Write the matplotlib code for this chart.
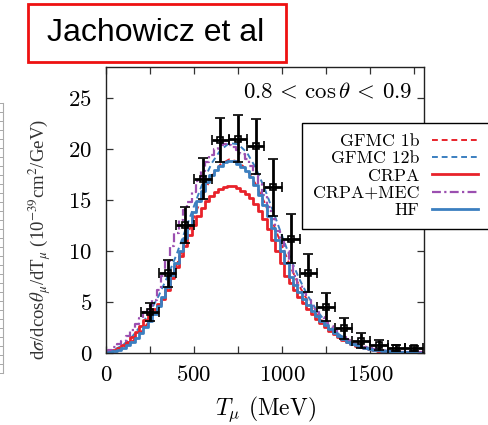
import matplotlib
matplotlib.use('Agg')
import matplotlib.pyplot as plt
from matplotlib.patches import Rectangle
from matplotlib.ticker import MultipleLocator

plt.rcParams['mathtext.fontset'] = 'cm'
plt.rcParams['font.family'] = ['cmr10', 'DejaVu Serif']
plt.rcParams['axes.formatter.use_mathtext'] = True

# fine binned curves (25 MeV)
t_fine = list(range(0, 1825, 25))
crpa = [0.0, 0.1, 0.25, 0.45, 0.75, 1.1, 1.5, 2.0, 2.6, 3.2, 3.8, 4.3, 4.8, 5.3, 6.2, 7.3,
        8.4, 9.5, 10.5, 11.6, 12.6, 13.4, 14.2, 14.9, 15.4, 15.8, 16.1, 16.3, 16.4, 16.35,
        16.2, 15.9, 15.6, 15.2, 14.6, 13.9, 13.1, 12.2, 11.1, 10.0, 8.8, 7.5, 6.9, 6.2,
        5.5, 4.9, 4.3, 3.8, 3.3, 2.9, 2.5, 2.1, 1.8, 1.5, 1.25, 1.05, 0.85, 0.7, 0.55,
        0.45, 0.35, 0.28, 0.22, 0.17, 0.13, 0.1, 0.08, 0.06, 0.05, 0.04, 0.03, 0.02, 0.02]
hf = [0.0, 0.05, 0.15, 0.3, 0.5, 0.75, 1.05, 1.45, 1.95, 2.5, 3.1, 3.8, 4.6, 5.5, 6.5, 7.6,
      8.8, 10.0, 11.3, 12.6, 13.8, 14.9, 15.9, 16.8, 17.5, 18.0, 18.4, 18.7, 18.8, 18.8,
      18.6, 18.3, 17.9, 17.3, 16.5, 15.5, 14.5, 13.4, 12.3, 11.1, 10.0, 8.8, 7.4, 6.7,
      6.0, 5.3, 4.7, 4.1, 3.6, 3.1, 2.7, 2.3, 1.95, 1.65, 1.35, 1.1, 0.9, 0.72, 0.58,
      0.46, 0.37, 0.29, 0.23, 0.18, 0.14, 0.11, 0.09, 0.07, 0.05, 0.04, 0.03, 0.02, 0.02]
crpa_mec = [0.1, 0.3, 0.55, 0.85, 1.2, 1.65, 2.2, 2.8, 3.4, 4.0, 4.6, 5.2, 6.2, 7.5, 9.0,
            10.5, 11.8, 13.0, 14.0, 14.8, 15.8, 16.9, 17.9, 18.7, 19.4, 20.0, 20.4, 20.5,
            20.4, 20.2, 19.9, 19.5, 19.0, 18.4, 17.6, 16.6, 15.5, 14.3, 13.1, 12.0, 11.0,
            10.0, 8.7, 7.5, 6.7, 5.9, 5.2, 4.6, 4.0, 3.5, 3.0, 2.6, 2.2, 1.85, 1.55, 1.25,
            1.0, 0.8, 0.65, 0.52, 0.42, 0.33, 0.26, 0.2, 0.16, 0.12, 0.1, 0.08, 0.06, 0.05,
            0.04, 0.03, 0.03]

# GFMC curves (50 MeV)
t_gfmc = list(range(0, 1850, 50))
gfmc_12b = [0.0, 0.3, 0.8, 1.6, 2.7, 4.0, 5.6, 7.5, 9.6, 12.0, 14.4, 16.7, 18.6, 19.9, 20.6,
            20.5, 19.7, 18.2, 16.2, 13.9, 11.5, 9.2, 7.2, 5.5, 4.1, 3.0, 2.1, 1.5, 1.0, 0.7,
            0.45, 0.3, 0.2, 0.12, 0.08, 0.05, 0.03]
gfmc_1b = [0.0, 0.15, 0.5, 1.1, 2.0, 3.2, 4.6, 6.4, 8.5, 10.9, 13.3, 15.5, 17.3, 18.5, 19.0,
           18.8, 18.0, 16.6, 14.8, 12.7, 10.5, 8.4, 6.5, 5.0, 3.7, 2.7, 1.9, 1.35, 0.95, 0.65,
           0.42, 0.28, 0.18, 0.11, 0.07, 0.04, 0.03]

# MiniBooNE data
t_data = [250, 350, 450, 550, 650, 750, 850, 950, 1050, 1150, 1250, 1350, 1450, 1550, 1650, 1750]
xs_data = [4.0, 7.8, 12.55, 17.1, 20.9, 21.05, 20.3, 16.25, 11.2, 7.85, 4.5, 2.4, 1.2, 0.75, 0.5, 0.45]
xs_err = [0.9, 1.3, 1.8, 2.0, 2.2, 2.3, 2.7, 2.8, 2.4, 1.9, 1.4, 1.0, 0.7, 0.5, 0.3, 0.25]
t_err = [50] * len(t_data)

RED = '#e8222a'
BLUE = '#3b7fc0'
PURPLE = '#9b4fb0'

fig = plt.figure(figsize=(4.88, 4.25), dpi=100)
ax = fig.add_axes([0.217, 0.170, 0.652, 0.672])

ax.plot(t_gfmc, gfmc_1b, color=RED, lw=1.4, ls=(0, (3, 2)), label='GFMC 1b')
ax.plot(t_gfmc, gfmc_12b, color=BLUE, lw=1.4, ls=(0, (3, 2)), label='GFMC 12b')
ax.plot(t_fine, crpa, color=RED, lw=2.0, drawstyle='steps-mid', label='CRPA')
ax.plot(t_fine, crpa_mec, color=PURPLE, lw=1.6, ls=(0, (4, 1.5, 1, 1.5)),
        drawstyle='steps-mid', label='CRPA+MEC')
ax.plot(t_fine, hf, color=BLUE, lw=2.0, drawstyle='steps-mid', label='HF')

ax.errorbar(t_data, xs_data, yerr=xs_err, xerr=t_err, fmt='s', ms=5, mfc='none',
            mec='black', mew=1.2, color='black', elinewidth=2.0, capsize=3.8,
            capthick=2.0, zorder=5)

ax.set_xlim(0, 1807)
ax.set_ylim(0, 28.07)
ax.set_xticks([0, 500, 1000, 1500])
ax.xaxis.set_minor_locator(MultipleLocator(250))
ax.set_yticks([0, 5, 10, 15, 20, 25])
ax.tick_params(which='both', direction='in', top=True, right=True, labelsize=16.5,
               length=5, width=0.9, color='#333333')
ax.tick_params(axis='x', pad=9)
ax.tick_params(axis='y', pad=10)
for s in ax.spines.values():
    s.set_linewidth(1.0)
    s.set_color('#222222')

ax.set_xlabel(r'$T_\mu$ (MeV)', fontsize=17, labelpad=7)
ax.text(0.965, 0.915, r'$0.8\,<\,\cos\theta\,<\,0.9$', transform=ax.transAxes,
        ha='right', va='center', fontsize=16.5)

leg = fig.legend(loc='upper left', bbox_to_anchor=(302 / 488, 1 - 123 / 425),
                 bbox_transform=fig.transFigure, borderaxespad=0, markerfirst=False,
                 fontsize=12.8, handlelength=2.6, handletextpad=0.7, labelspacing=0.1,
                 borderpad=0.6, fancybox=False, framealpha=1, edgecolor='black')
leg.get_frame().set_linewidth(1.0)
for t in leg.get_texts():
    t.set_ha('right')

# y label from the neighbouring panel
fig.text(40 / 488, 1 - 240 / 425,
         r'd$\sigma$/dcos$\theta_\mu$/dT$_\mu$ (10$^{-39}$cm$^2$/GeV)',
         rotation=90, ha='center', va='center', fontsize=13.5, color='#333333',
         family=['Liberation Serif'], math_fontfamily='stix')

# edge of the neighbouring panel
side = fig.add_axes([-0.2, 1 - 373 / 425, 0.2 + 3 / 488, (373 - 103) / 425])
side.set_xticks([])
side.yaxis.tick_right()
side.set_yticks([i / 30 for i in range(31)])
side.set_yticklabels([])
side.tick_params(axis='y', direction='in', length=3, color='#999999', width=0.6)
for k, s in side.spines.items():
    s.set_visible(k == 'right')
side.spines['right'].set_color('#aaaaaa')
side.patch.set_alpha(0)

# title box
fig.add_artist(Rectangle((28 / 488, 1 - 62 / 425), 258 / 488, 58 / 425,
                         transform=fig.transFigure, fill=False, edgecolor='#ee1111', lw=2))
fig.text(156 / 488, 1 - 33 / 425, 'Jachowicz et al', ha='center', va='center',
         fontsize=23, family=['Liberation Sans'])

fig.savefig('out.png', dpi=100)
